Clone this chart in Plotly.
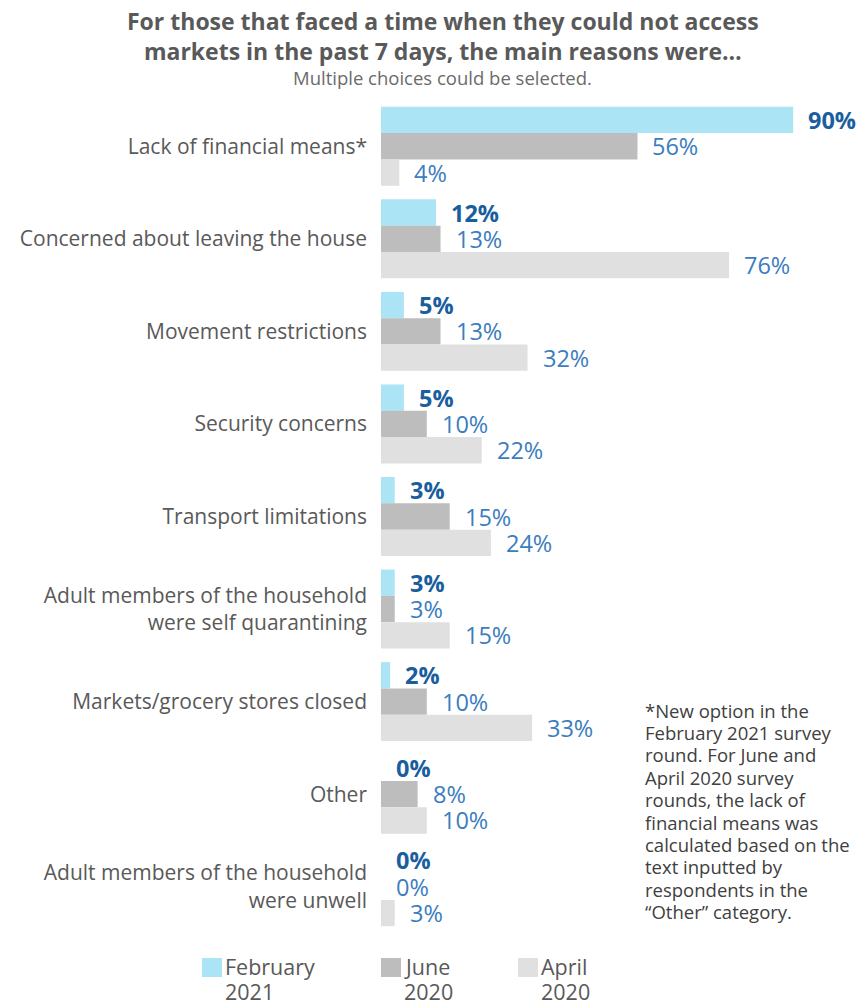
import plotly.graph_objects as go

categories = [
    "Lack of financial means*",
    "Concerned about leaving the house",
    "Movement restrictions",
    "Security concerns",
    "Transport limitations",
    "Adult members of the household<br>were self quarantining",
    "Markets/grocery stores closed",
    "Other",
    "Adult members of the household<br>were unwell",
]
series_names = ["February 2021", "June 2020", "April 2020"]
feb_2021 = [90, 12, 5, 5, 3, 3, 2, 0, 0]
jun_2020 = [56, 13, 13, 10, 15, 3, 10, 8, 0]
apr_2020 = [4, 76, 32, 22, 24, 15, 33, 10, 3]
series_values = [feb_2021, jun_2020, apr_2020]

footnote_lines = [
    "*New option in the", "February 2021 survey", "round. For June and",
    "April 2020 survey", "rounds, the lack of", "financial means was",
    "calculated based on the", "text inputted by", "respondents in the",
    "“Other” category.",
]

colors = ["#ABE4F5", "#BDBDBD", "#E0E0E0"]
label_colors = ["#1B5E9E", "#3B7DBE", "#3B7DBE"]
label_weights = ["bold", "normal", "normal"]

FONT = "Open Sans"
W, H = 864, 1005
ML, MR, MT, MB = 381, 25, 100, 72
PW, PH = W - ML - MR, H - MT - MB
BARGAP = 0.147
cat_px = PH / len(categories)
bar_px = cat_px * (1 - BARGAP) / 3


def px_x(px):
    return (px - ML) / PW


def px_y(py):
    return (H - MB - py) / PH


fig = go.Figure()
for i, (name, vals, col) in enumerate(zip(series_names, series_values, colors)):
    fig.add_trace(go.Bar(
        y=categories, x=vals, name=name, orientation="h",
        marker=dict(color=col, line=dict(width=0)),
        showlegend=False, hoverinfo="x+y",
    ))
    for cat, v in zip(categories, vals):
        fig.add_annotation(
            x=v, y=cat, xref="x", yref="y", text=f"{v}%", showarrow=False,
            xanchor="left", yanchor="middle", xshift=13, yshift=(1 - i) * bar_px,
            font=dict(family=FONT, size=23.5, color=label_colors[i], weight=label_weights[i]),
        )

fig.update_layout(
    width=W, height=H,
    margin=dict(l=ML, r=MR, t=MT, b=MB, autoexpand=False),
    paper_bgcolor="white", plot_bgcolor="white",
    barmode="group", bargap=BARGAP, bargroupgap=0,
    font=dict(family=FONT, color="#595959"),
    xaxis=dict(range=[0, 100], visible=False, fixedrange=True),
    yaxis=dict(autorange="reversed", showline=False, showgrid=False, ticks="",
               ticklabelstandoff=13, automargin=False, fixedrange=True,
               tickfont=dict(family=FONT, size=21, color="#595959")),
    showlegend=False,
)

# Title and subtitle
fig.add_annotation(
    text="<b>For those that faced a time when they could not access<br>markets in the past 7 days, the main reasons were…</b>",
    xref="paper", yref="paper", x=px_x(443), y=px_y(3), xanchor="center", yanchor="top",
    showarrow=False, font=dict(family=FONT, size=23, color="#595959"),
)
fig.add_annotation(
    text="Multiple choices could be selected.", xref="paper", yref="paper",
    x=px_x(442), y=px_y(77), xanchor="center", yanchor="middle", showarrow=False,
    font=dict(family=FONT, size=18.5, color="#6B6B6B"),
)

# Footnote, one line at a time for exact line spacing
for k, line in enumerate(footnote_lines):
    fig.add_annotation(
        text=line, xref="paper", yref="paper", x=px_x(643), y=px_y(710 + 22.4 * k),
        xanchor="left", yanchor="middle", align="left", showarrow=False,
        font=dict(family=FONT, size=18.5, color="#404040"),
    )

# Legend (manual, for large swatches); name wrapped over two lines
legend_x = [202, 381, 518]
for name, col, lx in zip(series_names, colors, legend_x):
    fig.add_shape(type="rect", xref="paper", yref="paper",
                  x0=px_x(lx), x1=px_x(lx + 20), y0=px_y(958), y1=px_y(977),
                  fillcolor=col, line=dict(width=0))
    for k, part in enumerate(name.split(" ")):
        fig.add_annotation(
            text=part, xref="paper", yref="paper", x=px_x(lx + 21), y=px_y(966 + 25 * k),
            xanchor="left", yanchor="middle", align="left", showarrow=False,
            font=dict(family=FONT, size=21.5, color="#595959"),
        )

fig.write_html(
    "out.html",
    config={"displayModeBar": False},
    post_script="document.body.style.margin='0';document.body.style.overflow='hidden';",
)
